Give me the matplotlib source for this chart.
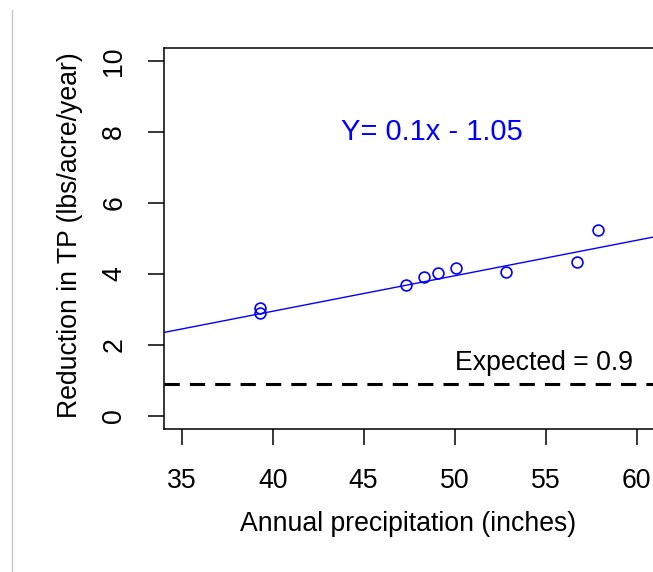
import matplotlib
matplotlib.use("Agg")
import matplotlib.pyplot as plt
from matplotlib.lines import Line2D
import numpy as np

plt.rcParams['font.family'] = ['Liberation Sans', 'DejaVu Sans']

# Annual precipitation (inches) and reduction in total phosphorus (lbs/acre/year)
precip = [39.3, 39.3, 47.3, 48.3, 49.1, 50.1, 52.8, 56.7, 57.9]
reduction = [3.03, 2.89, 3.70, 3.92, 4.03, 4.17, 4.06, 4.34, 5.24]

slope = 0.1
intercept = -1.05
expected = 0.9

xticks = [35, 40, 45, 50, 55, 60]
yticks = [0, 2, 4, 6, 8, 10]

W, H = 653, 572
fig = plt.figure(figsize=(W / 100, H / 100), dpi=100)

x0, x1 = 34.03, 62.0
px_per_unit = 18.2
left = 164 / W
bottom = (H - 428.7) / H
top = (H - 48) / H
width = (x1 - x0) * px_per_unit / W
ax = fig.add_axes([left, bottom, width, top - bottom])

ax.set_xlim(x0, x1)
ax.set_ylim(-0.36, 10.37)

FS = 19.2

# regression line across the whole panel
xs = np.array([x0, x1])
ax.plot(xs, slope * xs + intercept, color='#0000ff', lw=1.0)

# expected reduction
ax.axhline(expected, color='black', lw=2.2, dashes=(5.0, 3.3))

ax.plot(precip, reduction, linestyle='none', marker='o', markersize=7.8,
        markerfacecolor='none', markeredgecolor='#0000ff', markeredgewidth=1.2)

ax.text(48.75, 8.0, 'Y= 0.1x - 1.05', color='#0000ff', fontsize=21,
        ha='center', va='center')
ax.text(54.9, 1.5, 'Expected = 0.9', color='black', fontsize=FS,
        ha='center', va='center')

ax.set_xticks(xticks)
ax.set_yticks(yticks)
ax.set_xticklabels([str(v) for v in xticks])
ax.set_yticklabels([str(v) for v in yticks], rotation=90, va='center')
ax.tick_params(axis='both', direction='out', length=11.5, width=1.1,
               labelsize=FS, color='black')
ax.tick_params(axis='x', pad=17)
ax.tick_params(axis='y', pad=15)

for s in ax.spines.values():
    s.set_linewidth(1.1)
    s.set_color('black')

fig.text(408 / W, 1 - 524 / H, 'Annual precipitation (inches)', fontsize=FS,
         ha='center', va='center')
fig.text(70 / W, 1 - 235 / H, 'Reduction in TP (lbs/acre/year)', fontsize=FS,
         ha='center', va='center', rotation=90)

# thin frame line on the left edge
fig.add_artist(Line2D([11.5 / W, 11.5 / W], [0, 1 - 10 / H],
                      transform=fig.transFigure, color='#c8c8c8', lw=1.0))

fig.savefig('out.png', dpi=100)
